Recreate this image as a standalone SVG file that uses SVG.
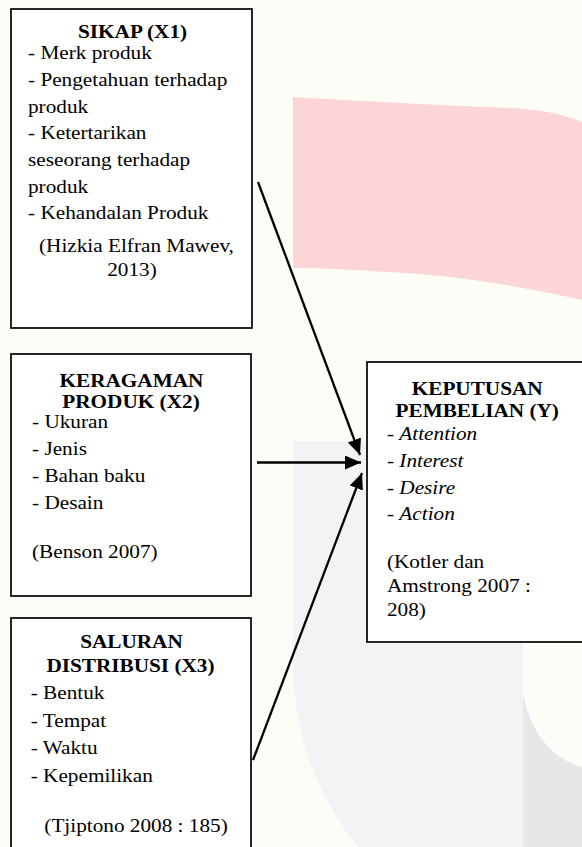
<svg xmlns="http://www.w3.org/2000/svg" width="582" height="847" viewBox="0 0 582 847">
<style>
.t{font-family:"Liberation Serif","Times New Roman",serif;font-size:19.5px;fill:#000}
.b{font-weight:bold}
.c{text-anchor:middle}
.i{font-style:italic}
.box{fill:#fff;stroke:#000;stroke-width:1.7}
.con{stroke:#000;stroke-width:2.3;fill:none}
</style>
<defs>
<marker id="ah" markerUnits="userSpaceOnUse" markerWidth="18" markerHeight="15" refX="16" refY="7" orient="auto">
<path d="M0,0 L16,7 L0,14 Z" fill="#000"/>
</marker>
</defs>
<g id="background">
<rect x="0" y="0" width="582" height="847" fill="#fdfdf8"/>
<path d="M293,97 C380,102 450,106 513,108 C545,110 565,115 582,122 L582,300 C540,290 470,278 420,274 C360,270 320,268 293,268 Z" fill="#fcd5d8"/>
<path d="M293,441 H582 V847 H358 C320,800 293,740 293,660 Z" fill="#f3f3f6"/>
<path d="M523,600 V847 H582 V600 Z" fill="#e7e7ea"/>
<path d="M523,600 V693 C530,735 555,760 582,767 V600 Z" fill="#fdfdf8"/>
</g>
<g id="connectors">
<line class="con" x1="258" y1="182" x2="360" y2="455" marker-end="url(#ah)"/>
<line class="con" x1="257" y1="462.5" x2="361" y2="462.5" marker-end="url(#ah)"/>
<line class="con" x1="253" y1="760" x2="362" y2="473" marker-end="url(#ah)"/>
</g>
<g id="sikap">
<rect class="box" x="11" y="9" width="241" height="319"/>
<g transform="scale(1.09 1)">
<text class="t b c" x="121.6" y="38.5">SIKAP (X1)</text>
<text class="t" x="25.7" y="59.5">- Merk produk</text>
<text class="t" x="25.7" y="86">- Pengetahuan terhadap</text>
<text class="t" x="25.7" y="113">produk</text>
<text class="t" x="25.7" y="139.5">- Ketertarikan</text>
<text class="t" x="25.7" y="166">seseorang terhadap</text>
<text class="t" x="25.7" y="193">produk</text>
<text class="t" x="25.7" y="219.5">- Kehandalan Produk</text>
<text class="t c" x="125.2" y="252">(Hizkia Elfran Mawev,</text>
<text class="t c" x="121.1" y="276">2013)</text>
</g>
</g>
<g id="keragaman">
<rect class="box" x="11" y="354" width="240" height="242"/>
<g transform="scale(1.09 1)">
<text class="t b c" x="120.6" y="387">KERAGAMAN</text>
<text class="t b c" x="120.2" y="408.5">PRODUK (X2)</text>
<text class="t" x="29.4" y="428">- Ukuran</text>
<text class="t" x="29.4" y="455">- Jenis</text>
<text class="t" x="29.4" y="482">- Bahan baku</text>
<text class="t" x="29.4" y="509.5">- Desain</text>
<text class="t" x="29.4" y="558">(Benson 2007)</text>
</g>
</g>
<g id="saluran">
<rect class="box" x="11" y="618" width="240" height="250"/>
<g transform="scale(1.09 1)">
<text class="t b c" x="120.6" y="648.5">SALURAN</text>
<text class="t b c" x="119.7" y="672.5">DISTRIBUSI (X3)</text>
<text class="t" x="28.2" y="699">- Bentuk</text>
<text class="t" x="28.2" y="727">- Tempat</text>
<text class="t" x="28.2" y="754.5">- Waktu</text>
<text class="t" x="28.2" y="782.5">- Kepemilikan</text>
<text class="t c" x="124.8" y="832">(Tjiptono 2008 : 185)</text>
</g>
</g>
<g id="keputusan">
<rect class="box" x="367" y="362" width="230" height="280"/>
<g transform="scale(1.09 1)">
<text class="t b c" x="437.8" y="395">KEPUTUSAN</text>
<text class="t b c" x="437.8" y="417">PEMBELIAN (Y)</text>
<text class="t" x="355" y="440">- <tspan class="i">Attention</tspan></text>
<text class="t" x="355" y="467">- <tspan class="i">Interest</tspan></text>
<text class="t" x="355" y="494">- <tspan class="i">Desire</tspan></text>
<text class="t" x="355" y="520">- <tspan class="i">Action</tspan></text>
<text class="t" x="355" y="568">(Kotler dan</text>
<text class="t" x="355" y="592">Amstrong 2007 :</text>
<text class="t" x="355" y="616">208)</text>
</g>
</g>
</svg>
